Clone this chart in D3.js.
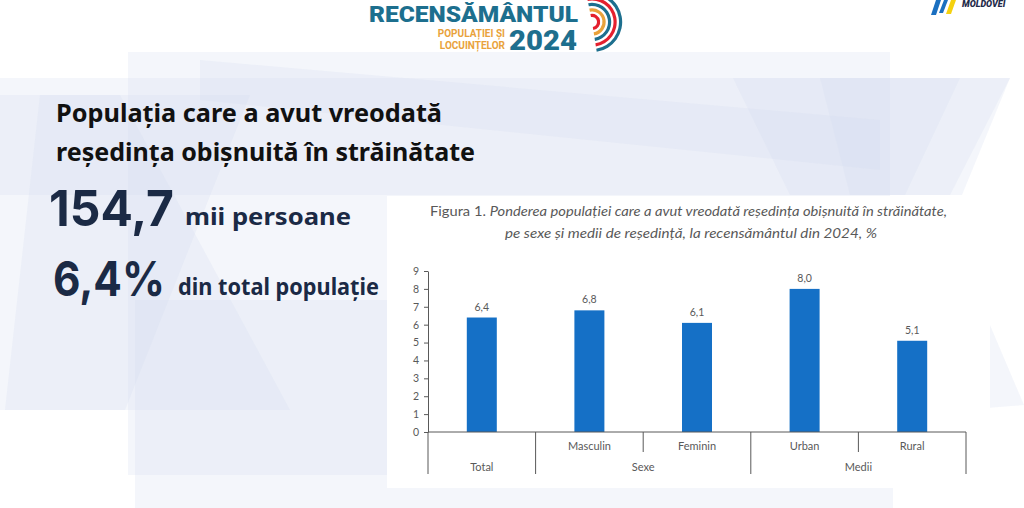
<!DOCTYPE html>
<html>
<head>
<meta charset="utf-8">
<script src="https://cdn.jsdelivr.net/npm/d3@7"></script>
<style>
    html, body { margin: 0; padding: 0; background: #fff; }
    svg { display: block; }
</style>
</head>
<body>
<svg id="slide" width="1024" height="508"></svg>
<script>
// date
const categories = ['Total', 'Masculin', 'Feminin', 'Urban', 'Rural']
const subLabels = ['', 'Masculin', 'Feminin', 'Urban', 'Rural']
const values = [6.4, 6.8, 6.1, 8.0, 5.1]
const groupNames = ['Total', 'Sexe', 'Medii']
const groupSpans = [1, 2, 2]
const yTicks = [0, 1, 2, 3, 4, 5, 6, 7, 8, 9]

const svg = d3.select('#slide')
const fmt = v => d3.format('.1f')(v).replace('.', ',')

// fundal decorativ (poligoane transparente)
const bgShapes = [
    [[128, 52], [890, 52], [890, 475], [128, 475]],
    [[0, 78], [1010, 78], [962, 195], [0, 195]],
    [[0, 95], [120, 95], [290, 410], [0, 410]],
    [[40, 95], [250, 95], [125, 410], [5, 410]],
    [[135, 300], [387, 300], [387, 508], [135, 508]],
    [[733, 78], [960, 78], [905, 195], [790, 195]],
    [[820, 78], [1010, 78], [950, 195], [850, 195]],
    [[987, 318], [1024, 405], [987, 408]],
    [[387, 487], [893, 487], [893, 508], [387, 508]],
    [[200, 60], [880, 120], [880, 170], [200, 100]]
]
svg.append('g')
    .selectAll('polygon')
    .data(bgShapes)
    .join('polygon')
    .attr('points', d => d.map(p => p.join(',')).join(' '))
    .attr('fill', '#d5ddee')
    .attr('opacity', 0.26)

// logo recensamant
const logo = svg.append('g').attr('font-family', 'Roboto, sans-serif')
logo.append('text')
    .attr('x', 369).attr('y', 22)
    .attr('font-weight', 900)
    .attr('font-size', 22)
    .attr('fill', '#1d6f8e')
    .attr('textLength', 209).attr('lengthAdjust', 'spacingAndGlyphs')
    .text('RECENSĂMÂNTUL')
logo.append('text')
    .attr('x', 505).attr('y', 37)
    .attr('text-anchor', 'end')
    .attr('font-weight', 700)
    .attr('font-size', 10)
    .attr('fill', '#e9a23b')
    .text('POPULAȚIEI ȘI')
logo.append('text')
    .attr('x', 505).attr('y', 49)
    .attr('text-anchor', 'end')
    .attr('font-weight', 700)
    .attr('font-size', 10)
    .attr('fill', '#e9a23b')
    .text('LOCUINȚELOR')
logo.append('text')
    .attr('x', 509).attr('y', 50)
    .attr('font-weight', 900)
    .attr('font-size', 28)
    .attr('fill', '#1d6f8e')
    .attr('textLength', 68).attr('lengthAdjust', 'spacingAndGlyphs')
    .text('2024')

const arcColors = ['#e4202e', '#e9a23b', '#1d6f8e', '#e4202e', '#1d6f8e']
const arcRadii = [7, 12.5, 18, 23.5, 29]
const arcGen = d3.arc()
logo.append('g')
    .attr('transform', 'translate(592, 22)')
    .selectAll('path')
    .data(arcRadii)
    .join('path')
    .attr('d', r => arcGen({ innerRadius: r - 2, outerRadius: r + 1.2, startAngle: -0.2, endAngle: Math.PI * 0.95 }))
    .attr('fill', (r, i) => arcColors[i])

// logo dreapta sus
const logo2 = svg.append('g')
logo2.append('path').attr('d', 'M936,0 L941,0 L936,15 L931,15 Z').attr('fill', '#1a6fc0')
logo2.append('path').attr('d', 'M944,0 L948,0 L943,13 L939,13 Z').attr('fill', '#1a6fc0')
logo2.append('path').attr('d', 'M951,0 L956,0 L951,14 L946,14 Z').attr('fill', '#f5d10f')
logo2.append('text')
    .attr('x', 962).attr('y', 7)
    .attr('font-family', 'Roboto, sans-serif')
    .attr('font-weight', 900)
    .attr('font-style', 'italic')
    .attr('font-size', 9)
    .attr('fill', '#1f2b4a')
    .text('MOLDOVEI')

// texte stanga
const left = svg.append('g').attr('font-family', '"Noto Sans", sans-serif').attr('font-weight', 700)
left.append('text')
    .attr('x', 56).attr('y', 122)
    .attr('font-size', 25)
    .attr('fill', '#111')
    .attr('textLength', 386).attr('lengthAdjust', 'spacingAndGlyphs')
    .text('Populația care a avut vreodată')
left.append('text')
    .attr('x', 56).attr('y', 161)
    .attr('font-size', 25)
    .attr('fill', '#111')
    .attr('textLength', 419).attr('lengthAdjust', 'spacingAndGlyphs')
    .text('reședința obișnuită în străinătate')

left.append('text')
    .attr('x', 49).attr('y', 226)
    .attr('font-family', 'Inter, sans-serif')
    .attr('font-size', 50)
    .attr('fill', '#1b2a45')
    .attr('textLength', 125).attr('lengthAdjust', 'spacingAndGlyphs')
    .text('154,7')
left.append('text')
    .attr('x', 185).attr('y', 225)
    .attr('font-size', 23)
    .attr('fill', '#1b2a45')
    .attr('textLength', 166).attr('lengthAdjust', 'spacingAndGlyphs')
    .text('mii persoane')
left.append('text')
    .attr('x', 53).attr('y', 296)
    .attr('font-family', 'Inter, sans-serif')
    .attr('font-size', 48)
    .attr('fill', '#1b2a45')
    .attr('textLength', 112).attr('lengthAdjust', 'spacingAndGlyphs')
    .text('6,4%')
left.append('text')
    .attr('x', 178).attr('y', 295)
    .attr('font-size', 23)
    .attr('fill', '#1b2a45')
    .attr('textLength', 201).attr('lengthAdjust', 'spacingAndGlyphs')
    .text('din total populație')

// panoul graficului
svg.append('rect')
    .attr('x', 387).attr('y', 196)
    .attr('width', 603).attr('height', 292)
    .attr('fill', '#fff')

const chart = svg.append('g').attr('font-family', 'Lato, sans-serif').attr('fill', '#595959')

const title = chart.append('text')
    .attr('x', 430).attr('y', 216)
    .attr('font-size', 13)
    .attr('textLength', 517).attr('lengthAdjust', 'spacingAndGlyphs')
title.append('tspan').text('Figura 1. ')
title.append('tspan').attr('font-style', 'italic')
    .text('Ponderea populației care a avut vreodată reședința obișnuită în străinătate,')
chart.append('text')
    .attr('x', 505).attr('y', 238)
    .attr('font-size', 13)
    .attr('font-style', 'italic')
    .attr('textLength', 372).attr('lengthAdjust', 'spacingAndGlyphs')
    .text('pe sexe și medii de reședință, la recensământul din 2024, %')

const x = d3.scaleBand().domain(categories).range([428, 966])
const y = d3.scaleLinear().domain([0, 9]).range([432, 271])
const barW = 30

const yAxis = chart.append('g')
    .attr('transform', 'translate(428,0)')
    .call(d3.axisLeft(y).tickValues(yTicks).tickFormat(d3.format('d')).tickSize(4).tickSizeOuter(0))
yAxis.select('.domain').attr('stroke', '#595959')
yAxis.selectAll('.tick line').attr('stroke', '#595959')
yAxis.selectAll('.tick text')
    .attr('fill', '#595959')
    .attr('font-family', 'Lato, sans-serif')
    .attr('font-size', 10.5)
    .attr('x', -9)

chart.append('g')
    .selectAll('rect')
    .data(values)
    .join('rect')
    .attr('x', (d, i) => x(categories[i]) + x.bandwidth() / 2 - barW / 2)
    .attr('y', d => y(d))
    .attr('width', barW)
    .attr('height', d => y(0) - y(d))
    .attr('fill', '#1570c6')

chart.append('g')
    .selectAll('text')
    .data(values)
    .join('text')
    .attr('x', (d, i) => x(categories[i]) + x.bandwidth() / 2)
    .attr('y', d => y(d) - 7)
    .attr('text-anchor', 'middle')
    .attr('font-size', 10.5)
    .text(d => fmt(d))

// axa x pe doua niveluri
chart.append('line')
    .attr('x1', x.range()[0]).attr('x2', x.range()[1])
    .attr('y1', y(0)).attr('y2', y(0))
    .attr('stroke', '#595959')

const groupEdges = [0]
groupSpans.forEach(s => groupEdges.push(groupEdges[groupEdges.length - 1] + s))
const edgeX = i => i < categories.length ? x(categories[i]) : x.range()[1]

chart.append('g')
    .selectAll('line')
    .data(d3.range(categories.length + 1))
    .join('line')
    .attr('x1', edgeX).attr('x2', edgeX)
    .attr('y1', y(0))
    .attr('y2', i => groupEdges.includes(i) ? 474 : 452)
    .attr('stroke', '#595959')

chart.append('g')
    .selectAll('text')
    .data(subLabels)
    .join('text')
    .attr('x', (d, i) => x(categories[i]) + x.bandwidth() / 2)
    .attr('y', 450)
    .attr('text-anchor', 'middle')
    .attr('font-size', 11)
    .text(d => d)

chart.append('g')
    .selectAll('text')
    .data(groupNames)
    .join('text')
    .attr('x', (d, i) => (edgeX(groupEdges[i]) + edgeX(groupEdges[i + 1])) / 2)
    .attr('y', 471)
    .attr('text-anchor', 'middle')
    .attr('font-size', 11)
    .text(d => d)
</script>
</body>
</html>
